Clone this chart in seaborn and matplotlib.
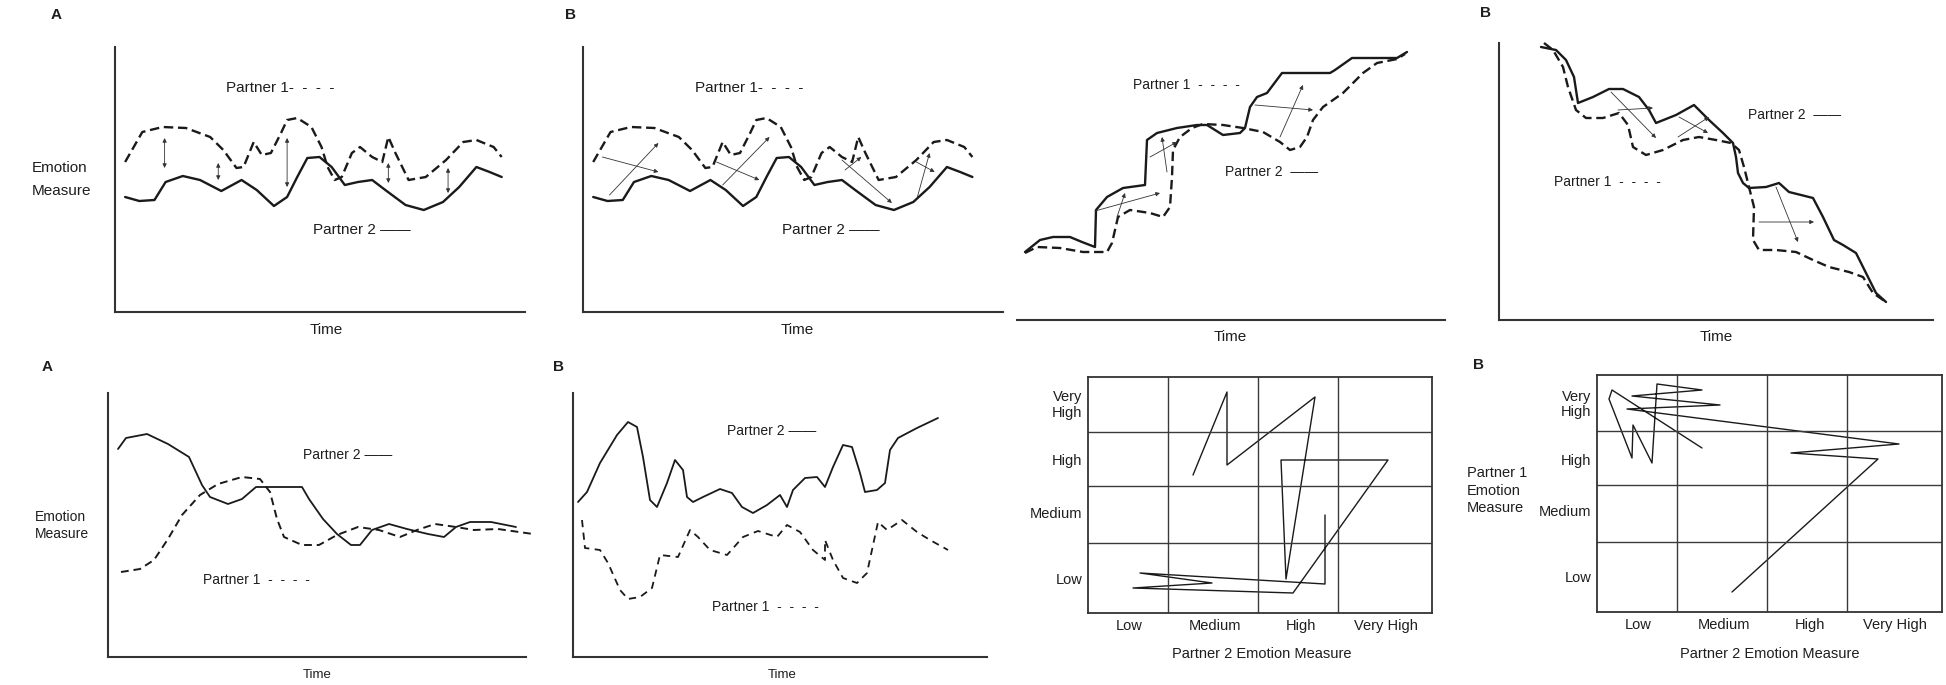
import matplotlib
matplotlib.use("Agg")
import matplotlib.pyplot as plt
import seaborn as sns

# ---------------- data (arbitrary units) ----------------
# Panels A/B top-left: oscillating partners
osc_p1_t = [10, 27, 47, 70, 94, 107, 120, 127, 137, 145, 154, 164, 170, 180, 194, 204, 210, 217, 224, 234,
            242, 254, 264, 270, 277, 290, 307, 327, 344, 357, 374, 382]
osc_p1_y = [150, 180, 185, 184, 175, 162, 144, 145, 170, 157, 159, 179, 192, 194, 185, 165, 145, 132, 135, 159,
            165, 155, 150, 175, 159, 132, 135, 152, 170, 172, 165, 155]
osc_p2_t = [10, 24, 39, 50, 67, 84, 105, 125, 140, 157, 170, 180, 190, 202, 214, 227, 240, 254, 267, 287,
            305, 324, 340, 357, 370, 382]
osc_p2_y = [115, 111, 112, 130, 136, 132, 121, 132, 122, 106, 115, 135, 154, 155, 145, 127, 130, 132, 122, 107,
            102, 110, 125, 145, 140, 135]
gap_t = [49, 102, 170, 270, 329]
gap_top = [174, 149, 174, 149, 144]
gap_bottom = [144, 132, 125, 129, 119]
lag_x0 = [19, 26, 131, 137, 254, 257, 327, 328]
lag_y0 = [155, 117, 150, 127, 152, 142, 150, 115]
lag_x1 = [74, 74, 173, 183, 303, 273, 345, 340]
lag_y1 = [140, 169, 132, 175, 109, 155, 140, 159]

# Rising (stepwise) partners
up_p2_t = [8, 23, 36, 53, 65, 78, 79, 90, 106, 128, 130, 140, 160, 180, 190, 206, 223, 228, 233, 240,
           250, 265, 313, 318, 335, 380, 390]
up_p2_y = [68, 80, 83, 83, 78, 73, 110, 123, 132, 135, 180, 187, 192, 195, 195, 185, 187, 192, 213, 223,
           227, 247, 247, 250, 262, 262, 268]
up_p1_t = [8, 20, 43, 66, 90, 95, 101, 113, 133, 146, 153, 155, 156, 163, 175, 186, 206, 226, 246, 263,
           273, 283, 290, 296, 306, 326, 346, 360, 380, 388]
up_p1_y = [67, 73, 72, 68, 68, 77, 103, 110, 107, 103, 113, 143, 170, 183, 192, 196, 195, 192, 188, 178,
           170, 173, 183, 200, 213, 227, 247, 257, 261, 266]
up_x0 = [78, 100, 133, 150, 238, 263]
up_y0 = [109, 103, 163, 148, 215, 183]
up_x1 = [143, 108, 160, 145, 296, 286]
up_y1 = [127, 127, 178, 183, 210, 235]

# Falling (stepwise) partners
down_p2_t = [42, 57, 67, 75, 79, 94, 110, 124, 140, 150, 157, 177, 195, 210, 224, 234, 237, 239, 244, 250,
             267, 280, 290, 314, 324, 335, 344, 357, 367, 377, 387]
down_p2_y = [273, 270, 260, 243, 217, 223, 231, 231, 223, 210, 197, 205, 215, 200, 187, 177, 163, 147, 137, 132,
             133, 137, 128, 122, 103, 80, 75, 67, 47, 27, 18]
down_p1_t = [45, 54, 64, 69, 77, 87, 104, 120, 129, 134, 147, 164, 184, 200, 217, 232, 240, 245, 250, 255,
             254, 260, 277, 297, 314, 330, 350, 364, 374, 387]
down_p1_y = [277, 270, 253, 233, 210, 202, 202, 207, 195, 173, 165, 170, 180, 183, 180, 177, 170, 153, 133, 113,
             80, 70, 70, 68, 60, 53, 48, 43, 27, 18]
down_x0 = [112, 119, 180, 179, 260, 277]
down_y0 = [228, 210, 203, 183, 98, 133]
down_x1 = [157, 154, 209, 210, 315, 299]
down_y1 = [182, 212, 187, 203, 98, 78]

# Dampening partners
damp_p2_t = [10, 18, 39, 60, 81, 94, 102, 120, 134, 148, 194, 201, 215, 229, 243, 252, 264, 281, 299, 320,
             336, 348, 362, 383, 408]
damp_p2_y = [208, 219, 223, 213, 200, 172, 160, 153, 158, 170, 170, 158, 138, 123, 112, 112, 127, 133, 128, 123,
             120, 130, 135, 135, 130]
damp_p1_t = [13, 32, 46, 60, 74, 92, 110, 134, 152, 162, 169, 176, 194, 211, 229, 250, 271, 292, 309, 327,
             348, 366, 390, 425]
damp_p1_y = [85, 88, 97, 118, 142, 162, 173, 180, 178, 165, 138, 120, 112, 112, 122, 130, 127, 120, 127, 133,
             130, 127, 128, 123]

# Separated partners
sep_p2_t = [5, 14, 27, 44, 55, 64, 70, 77, 84, 94, 102, 110, 114, 120, 130, 147, 159, 169, 180, 194,
            207, 214, 220, 232, 244, 252, 260, 270, 279, 287, 292, 304, 312, 317, 325, 344, 365]
sep_p2_y = [155, 165, 194, 222, 235, 230, 200, 157, 150, 174, 197, 187, 160, 155, 160, 168, 164, 150, 144, 152,
            162, 150, 167, 179, 180, 170, 190, 212, 210, 184, 165, 167, 174, 207, 219, 229, 239]
sep_p1_t = [9, 12, 27, 35, 47, 55, 67, 79, 87, 105, 117, 125, 137, 154, 170, 185, 204, 214, 227, 240,
            252, 252, 260, 270, 284, 294, 305, 314, 329, 344, 357, 375]
sep_p1_y = [137, 109, 107, 94, 67, 58, 60, 69, 102, 100, 127, 120, 107, 102, 120, 126, 120, 132, 125, 107,
            97, 117, 97, 79, 74, 84, 135, 127, 137, 125, 117, 107]

# State-space trajectories (Partner 2 on x, Partner 1 on y)
ss_a_p2 = [105, 139, 139, 227, 198, 193, 300, 205, 45, 124, 52, 237, 237]
ss_a_p1 = [138, 221, 148, 216, 34, 153, 153, 20, 25, 30, 40, 29, 98]
ss_b_p2 = [135, 281, 194, 302, 30, 123, 35, 105, 60, 55, 36, 35, 12, 15, 105]
ss_b_p1 = [20, 153, 159, 168, 203, 207, 216, 222, 228, 149, 187, 154, 213, 222, 164]
level_labels = ["Low", "Medium", "High", "Very High"]
level_labels_y = ["Low", "Medium", "High", "Very\nHigh"]
level_centers_x = [41, 127, 213, 298]
level_centers_y = [35, 101, 153, 210]
level_edges_x = [80, 170, 250]
level_edges_y = [70, 127, 181]

P1_KEY = "-  -  -  -"
P2_KEY = "\u2014\u2014"

# ---------------- figure ----------------
W, H = 1946, 685
sns.set_theme(style="white")
plt.rcParams["font.family"] = ["Liberation Sans", "DejaVu Sans"]
INK = "#1a1a1a"
TXT = "#1e1e1e"
fig = plt.figure(figsize=(W / 100, H / 100), dpi=100)
fig.patch.set_facecolor("white")


def add_ax(L, R, B, T):
    return fig.add_axes([L / W, 1 - B / H, (R - L) / W, (B - T) / H])


def ftext(x, y, s, **kw):
    kw.setdefault("color", TXT)
    kw.setdefault("va", "center")
    fig.text(x / W, 1 - y / H, s, **kw)


def style_time_ax(ax, xmax, ymax, left=True):
    ax.set_xlim(0, xmax)
    ax.set_ylim(0, ymax)
    ax.set_xticks([])
    ax.set_yticks([])
    ax.set_xlabel("")
    ax.set_ylabel("")
    ax.set_facecolor("none")
    for s in ["top", "right"]:
        ax.spines[s].set_visible(False)
    ax.spines["left"].set_visible(left)
    for s in ["left", "bottom"]:
        ax.spines[s].set_color("#333333")
        ax.spines[s].set_linewidth(1.5)


def curve(ax, t, y, dashed, lw=1.7, dash=(4, 2)):
    sns.lineplot(x=t, y=y, ax=ax, sort=False, estimator=None, color=INK, linewidth=lw)
    ln = ax.get_lines()[-1]
    if dashed:
        ln.set_dashes(dash)
    ln.set_clip_on(False)


def arrows(ax, x0, y0, x1, y1, style="-|>"):
    for a, b, c, d in zip(x0, y0, x1, y1):
        ax.annotate("", xy=(c, d), xytext=(a, b),
                    arrowprops=dict(arrowstyle=style, lw=0.6, color="#333333",
                                    mutation_scale=6, shrinkA=0, shrinkB=0))


FS = 11
# ---- Panel 1 (top A) ----
ax1 = add_ax(115, 525, 312, 47)
curve(ax1, osc_p1_t, osc_p1_y, True)
curve(ax1, osc_p2_t, osc_p2_y, False)
arrows(ax1, gap_t, gap_top, gap_t, gap_bottom, style="<|-|>")
style_time_ax(ax1, 405, 265)
ftext(51, 15, "A", fontsize=11, fontweight="bold")
ftext(32, 168, "Emotion", fontsize=FS)
ftext(32, 191, "Measure", fontsize=FS)
ftext(226, 88, "Partner 1" + P1_KEY, fontsize=FS)
ftext(313, 230, "Partner 2 " + P2_KEY, fontsize=FS)
ftext(326, 330, "Time", fontsize=FS, ha="center")

# ---- Panel 2 (top B) ----
ax2 = add_ax(583, 1003, 312, 47)
curve(ax2, osc_p1_t, osc_p1_y, True)
curve(ax2, osc_p2_t, osc_p2_y, False)
arrows(ax2, lag_x0, lag_y0, lag_x1, lag_y1)
style_time_ax(ax2, 412, 265)
ftext(565, 15, "B", fontsize=11, fontweight="bold")
ftext(695, 88, "Partner 1" + P1_KEY, fontsize=FS)
ftext(782, 230, "Partner 2 " + P2_KEY, fontsize=FS)
ftext(797, 330, "Time", fontsize=FS, ha="center")

# ---- Panel 3 (rising) ----
ax3 = add_ax(1017, 1445, 320, 47)
curve(ax3, up_p1_t, up_p1_y, True)
curve(ax3, up_p2_t, up_p2_y, False)
arrows(ax3, up_x0, up_y0, up_x1, up_y1)
style_time_ax(ax3, 428, 273, left=False)
ftext(1133, 85, "Partner 1  " + P1_KEY, fontsize=10)
ftext(1225, 172, "Partner 2  " + P2_KEY, fontsize=10)
ftext(1230, 337, "Time", fontsize=FS, ha="center")

# ---- Panel 4 (falling) ----
ax4 = add_ax(1499, 1933, 320, 43)
curve(ax4, down_p1_t, down_p1_y, True)
curve(ax4, down_p2_t, down_p2_y, False)
arrows(ax4, down_x0, down_y0, down_x1, down_y1)
style_time_ax(ax4, 434, 277)
ftext(1480, 13, "B", fontsize=11, fontweight="bold")
ftext(1748, 115, "Partner 2  " + P2_KEY, fontsize=10)
ftext(1554, 182, "Partner 1  " + P1_KEY, fontsize=10)
ftext(1716, 337, "Time", fontsize=FS, ha="center")

# ---- Panel 5 (bottom A, dampening) ----
ax5 = add_ax(108, 526, 657, 393)
curve(ax5, damp_p1_t, damp_p1_y, True, lw=1.4, dash=(4, 2.5))
curve(ax5, damp_p2_t, damp_p2_y, False, lw=1.3)
style_time_ax(ax5, 418, 264)
ftext(42, 367, "A", fontsize=11, fontweight="bold")
ftext(35, 517, "Emotion", fontsize=10)
ftext(35, 534, "Measure", fontsize=10)
ftext(303, 455, "Partner 2 " + P2_KEY, fontsize=10)
ftext(203, 580, "Partner 1  " + P1_KEY, fontsize=10)
ftext(317, 675, "Time", fontsize=9.5, ha="center")

# ---- Panel 6 (bottom B, separated) ----
ax6 = add_ax(573, 987, 657, 393)
curve(ax6, sep_p1_t, sep_p1_y, True, lw=1.3, dash=(4, 3))
curve(ax6, sep_p2_t, sep_p2_y, False, lw=1.3)
style_time_ax(ax6, 414, 264)
ftext(553, 367, "B", fontsize=11, fontweight="bold")
ftext(727, 431, "Partner 2 " + P2_KEY, fontsize=10)
ftext(712, 607, "Partner 1  " + P1_KEY, fontsize=10)
ftext(782, 675, "Time", fontsize=9.5, ha="center")


# ---- State-space panels ----
def state_ax(ax, xs, ys, xmax, ymax):
    sns.lineplot(x=xs, y=ys, ax=ax, sort=False, estimator=None, color=INK, linewidth=1.0)
    for e in level_edges_x:
        ax.axvline(e, color="#3a3a3a", lw=1.0)
    for e in level_edges_y:
        ax.axhline(e, color="#3a3a3a", lw=1.0)
    ax.set_xlim(0, xmax)
    ax.set_ylim(0, ymax)
    ax.set_xticks(level_centers_x)
    ax.set_xticklabels(level_labels, fontsize=10.5, color=TXT)
    ax.set_yticks(level_centers_y)
    ax.set_yticklabels(level_labels_y, fontsize=10.5, color=TXT, linespacing=1.15)
    ax.tick_params(length=0, pad=4)
    ax.set_xlabel("")
    ax.set_ylabel("")
    ax.grid(False)
    for s in ax.spines.values():
        s.set_visible(True)
        s.set_color("#333333")
        s.set_linewidth(1.3)


ax7 = add_ax(1088, 1432, 613, 377)
state_ax(ax7, ss_a_p2, ss_a_p1, 344, 236)
ftext(1262, 654, "Partner 2 Emotion Measure", fontsize=10.5, ha="center")

ax8 = add_ax(1597, 1942, 612, 375)
state_ax(ax8, ss_b_p2, ss_b_p1, 345, 237)
ftext(1473, 365, "B", fontsize=11, fontweight="bold")
ftext(1467, 473, "Partner 1", fontsize=10.5)
ftext(1467, 491, "Emotion", fontsize=10.5)
ftext(1467, 508, "Measure", fontsize=10.5)
ftext(1770, 654, "Partner 2 Emotion Measure", fontsize=10.5, ha="center")

fig.savefig("out.png", dpi=100, facecolor="white")
